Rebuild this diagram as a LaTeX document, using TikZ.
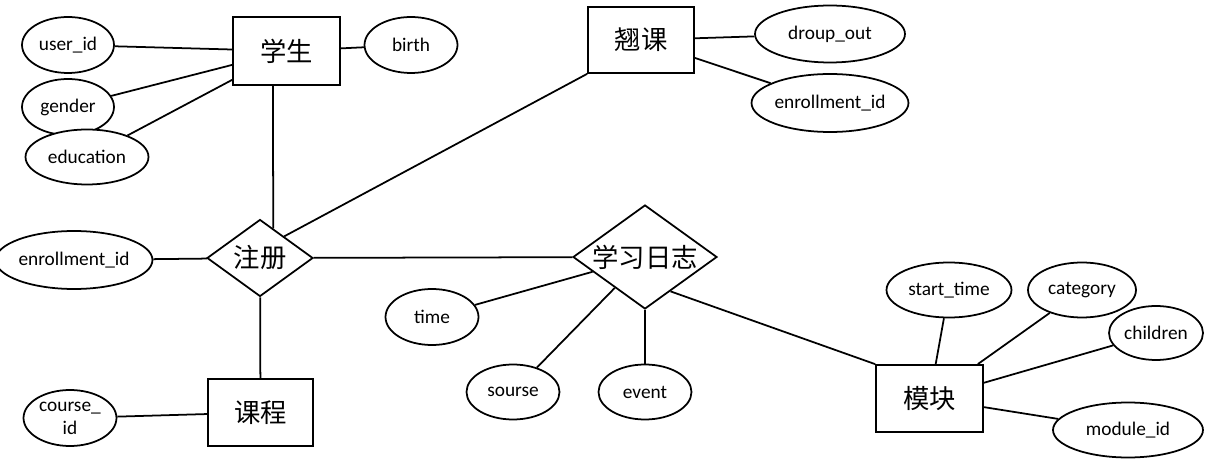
\documentclass[tikz,border=0pt]{standalone}
\usepackage{fontspec}
\setmainfont{Carlito}
\newfontfamily\cjk{Noto Sans CJK SC}
\usetikzlibrary{shapes.geometric, calc}

\begin{document}
\begin{tikzpicture}[
  x=0.02cm, y=-0.02cm,
  entity/.style={rectangle, draw, fill=white, line width=1pt, minimum width=2.14cm, minimum height=1.36cm, font=\cjk\fontsize{15}{18}\selectfont},
  attr/.style={ellipse, draw, fill=white, line width=1pt, inner sep=0pt, minimum width=1.86cm, minimum height=1.12cm, align=center, font=\fontsize{11}{13}\selectfont},
  rel/.style={diamond, draw, fill=white, line width=1pt, inner sep=0pt, font=\cjk\fontsize{15}{18}\selectfont},
  conn/.style={line width=1pt},
]
\useasboundingbox (0,0) rectangle (1211,476);

% entities
\node[entity] (xuesheng) at (286.5,51) {学生};
\node[entity, minimum width=2.12cm, minimum height=1.32cm] (qiaoke) at (641,40) {翘课};
\node[entity, minimum width=2.10cm, minimum height=1.34cm] (kecheng) at (260.5,412.5) {课程};
\node[entity, minimum height=1.34cm] (mokuai) at (929.5,398.5) {模块};

% relations
\node[rel, minimum width=2.12cm, minimum height=1.54cm] (zhuce) at (260,258) {\makebox[0pt]{注册}};
\node[rel, minimum width=2.88cm, minimum height=2.08cm] (xuexi) at (645,257) {\makebox[0pt]{学习日志}};

% attributes
\node[attr, minimum width=1.84cm] (userid) at (68,45) {user\_id};
\node[attr] (birth) at (411,45) {birth};
\node[attr, minimum width=1.84cm] (gender) at (68,107) {gender};
\node[attr, minimum width=2.46cm, minimum height=1.10cm] (education) at (87,157) {education};
\node[attr, minimum width=3.0cm, minimum height=1.14cm] (dropout) at (830,34) {droup\_out};
\node[attr, minimum width=3.08cm, minimum height=1.16cm] (enrollB) at (830,103) {enrollment\_id};
\node[attr, minimum width=2.92cm, minimum height=1.16cm] (enrollA) at (74,260) {enrollment\_id};
\node[attr] (courseid) at (70,418) {course\_\\id};
\node[attr] (time) at (432,317) {time};
\node[attr, minimum height=1.10cm] (sourse) at (513,392) {sourse};
\node[attr, minimum height=1.10cm] (event) at (645,392) {event};
\node[attr, minimum width=2.5cm, minimum height=1.10cm] (starttime) at (949,290) {start\_time};
\node[attr, minimum width=2.16cm, minimum height=1.10cm] (category) at (1082,290) {category};
\node[attr, minimum width=1.88cm, minimum height=1.08cm] (children) at (1156,333) {children};
\node[attr, minimum width=3.0cm, minimum height=1.10cm] (moduleid) at (1128,430) {module\_id};

% connectors
\draw[conn] (userid) -- (xuesheng);
\draw[conn] (gender) -- (xuesheng);
\draw[conn] (education) -- (xuesheng);
\draw[conn] (birth) -- (xuesheng);
\draw[conn] (qiaoke) -- (dropout);
\draw[conn] (qiaoke) -- (enrollB);
\draw[conn] ([xshift=-0.27cm]xuesheng.south) -- ($(zhuce.north)!0.245!(zhuce.east)$);
\draw[conn] (qiaoke.south west) -- ($(zhuce.north)!0.45!(zhuce.east)$);
\draw[conn] (enrollA) -- (zhuce);
\draw[conn] (zhuce) -- (xuexi);
\draw[conn] (zhuce) -- (kecheng);
\draw[conn] (courseid) -- (kecheng);
\draw[conn] (time) -- (xuexi);
\draw[conn] (sourse) -- (xuexi);
\draw[conn] (event) -- (xuexi);
\draw[conn] ($(xuexi.south)!0.35!(xuexi.east)$) -- (mokuai.north west);
\draw[conn] (starttime) -- (mokuai);
\draw[conn] (category) -- (mokuai);
\draw[conn] (children) -- (mokuai);
\draw[conn] (moduleid) -- (mokuai);
\end{tikzpicture}
\end{document}
